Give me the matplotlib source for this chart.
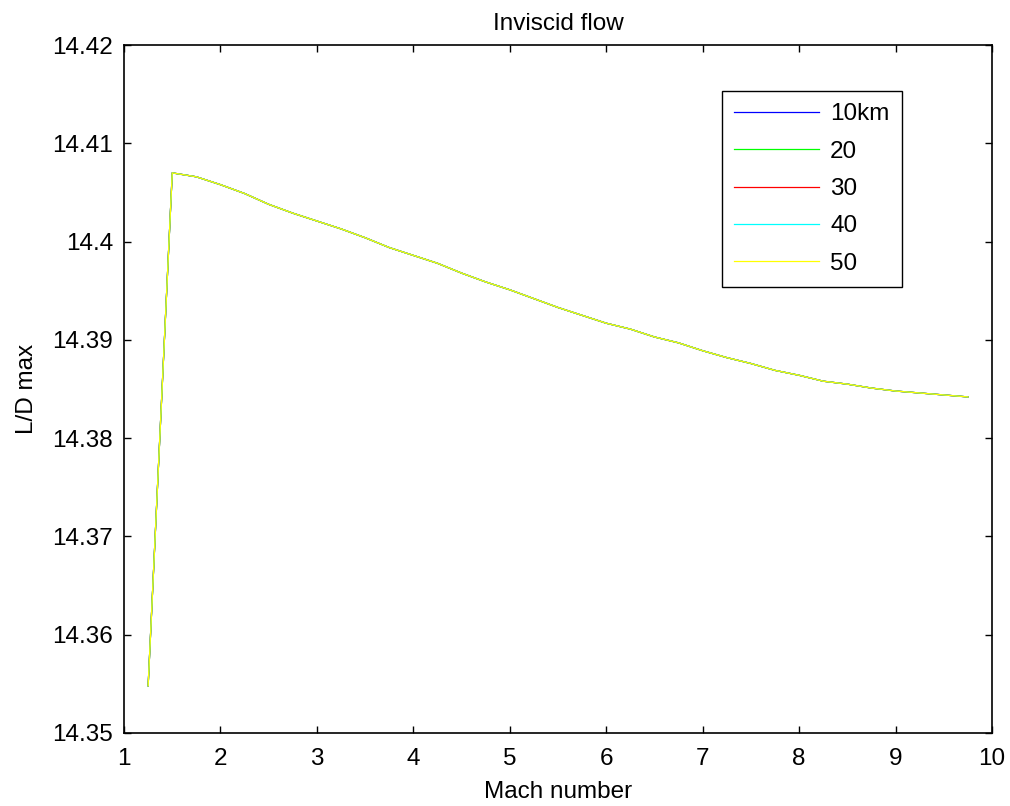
import matplotlib
matplotlib.use('Agg')
import matplotlib.pyplot as plt
from matplotlib.ticker import FuncFormatter

plt.rcParams['font.family'] = ['Liberation Sans', 'DejaVu Sans']

# Mach number and L/D max values (all altitudes overlap)
mach = [1.25, 1.5, 1.75, 2.0, 2.25, 2.5, 2.75, 3.0, 3.25, 3.5, 3.75, 4.0,
        4.25, 4.5, 4.75, 5.0, 5.25, 5.5, 5.75, 6.0, 6.25, 6.5, 6.75, 7.0,
        7.25, 7.5, 7.75, 8.0, 8.25, 8.5, 8.75, 9.0, 9.25, 9.5, 9.75]
ld_max = [14.3548, 14.4070, 14.4066, 14.4058, 14.4049, 14.4038, 14.4029, 14.4021,
          14.4013, 14.4004, 14.3994, 14.3986, 14.3978, 14.3968, 14.3959, 14.3951,
          14.3942, 14.3933, 14.3925, 14.3917, 14.3911, 14.3903, 14.3897, 14.3889,
          14.3882, 14.3876, 14.3869, 14.3864, 14.3858, 14.3855, 14.3851, 14.3848,
          14.3846, 14.3844, 14.3842]

labels = ['10km', '20', '30', '40', '50']
colors = ['#0000ff', '#00ff00', '#ff0000', '#00ffff', '#ffff00']

fs = 17.5

fig = plt.figure(figsize=(10.1, 8.06), dpi=100)
ax = fig.add_axes([0.1228, 0.0906, 0.8594, 0.8534])

for lab, col in zip(labels, colors):
    ax.plot(mach, ld_max, color=col, linewidth=0.9, label=lab)

ax.set_xlim(1, 10)
ax.set_ylim(14.35, 14.42)
ax.set_xticks(range(1, 11))
ax.set_yticks([14.35 + 0.01 * i for i in range(8)])
ax.yaxis.set_major_formatter(FuncFormatter(lambda v, p: f'{round(v, 4):g}'))
ax.tick_params(axis='x', pad=11)
ax.tick_params(axis='y', pad=8)
ax.tick_params(direction='in', top=True, right=True, length=5, width=1,
               labelsize=fs)
for s in ax.spines.values():
    s.set_linewidth(1.2)

ax.set_title('Inviscid flow', fontsize=fs, pad=11)
ax.set_xlabel('Mach number', fontsize=fs, labelpad=8)
ax.set_ylabel('L/D max', fontsize=fs, labelpad=10)

leg = ax.legend(loc='upper right', bbox_to_anchor=(0.896, 0.933), fontsize=fs,
                handlelength=3.5, labelspacing=0.63, borderpad=0.5,
                handletextpad=0.45, fancybox=False, framealpha=1,
                edgecolor='black', borderaxespad=0)
leg.get_frame().set_linewidth(1.0)

fig.savefig('out.png', dpi=100)
